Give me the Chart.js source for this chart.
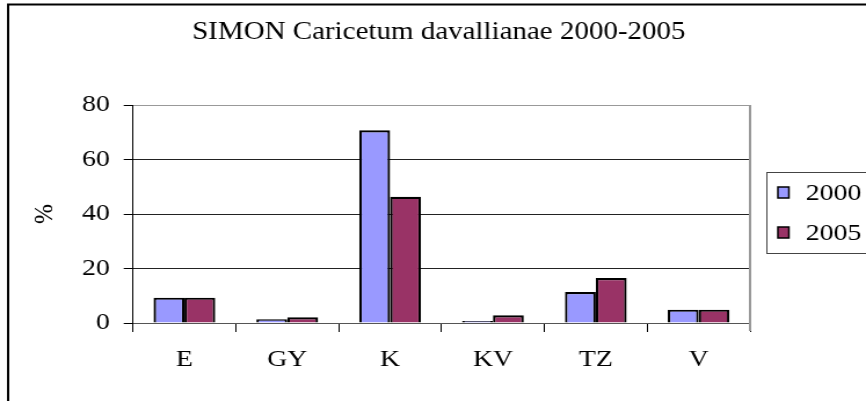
<!DOCTYPE html>
<html>
<head>
<meta charset="utf-8">
<script src="https://cdn.jsdelivr.net/npm/chart.js@4/dist/chart.umd.min.js"></script>
<style>
  html, body { margin: 0; padding: 0; background: #fff; overflow: hidden; }
  #wrap { position: absolute; left: 0; top: 0; width: 747px; height: 401px;
          transform: scaleX(1.1593); transform-origin: 0 0; }
  .probe { font-family: "Liberation Serif"; position: absolute; left: -9999px; }
</style>
</head>
<body>
<span class="probe">0</span>
<div id="wrap"><canvas id="c" width="747" height="401" style="width:747px;height:401px"></canvas></div>
<script>
const TITLE = 'SIMON Caricetum davallianae 2000-2005';
const Y_TITLE = '%';
const categories = ['E', 'GY', 'K', 'KV', 'TZ', 'V'];
const seriesNames = ['2000', '2005'];
const values2000 = [9.3, 1.4, 70.7, 0.7, 11.4, 4.9];
const values2005 = [9.3, 2.1, 46.3, 2.8, 16.5, 4.9];
const colors = ['#9999FF', '#993366'];
const yTicks = [0, 20, 40, 60, 80];

const FONT = "'Liberation Serif', 'DejaVu Serif', serif";

const decorPlugin = {
  id: 'decor',
  beforeDraw(chart) {
    const ctx = chart.ctx;
    ctx.save();
    ctx.fillStyle = '#fff';
    ctx.fillRect(0, 0, chart.width, chart.height);
    ctx.strokeStyle = '#000';
    ctx.lineWidth = 2;
    ctx.strokeRect(7, 4.5, 2000, 2000);
    ctx.fillStyle = '#000';
    ctx.font = '25px ' + FONT;
    ctx.textAlign = 'center';
    ctx.textBaseline = 'alphabetic';
    ctx.fillText(TITLE, 378.5, 39);
    ctx.restore();
  },
  afterDatasetsDraw(chart) {
    const ctx = chart.ctx;
    const a = chart.chartArea;
    ctx.save();
    ctx.strokeStyle = '#999';
    ctx.lineWidth = 2;
    ctx.beginPath();
    ctx.moveTo(a.right, a.top);
    ctx.lineTo(a.right, a.bottom + 8);
    ctx.stroke();
    ctx.restore();
  },
  afterDraw(chart) {
    const ctx = chart.ctx;
    ctx.save();
    ctx.strokeStyle = '#444';
    ctx.lineWidth = 1;
    ctx.strokeRect(661.5, 172.5, 200, 81);
    ctx.font = '24px ' + FONT;
    ctx.textAlign = 'left';
    ctx.textBaseline = 'middle';
    chart.data.datasets.forEach((ds, i) => {
      const y = 187 + i * 40;
      ctx.fillStyle = ds.backgroundColor;
      ctx.fillRect(671, y, 9.5, 11);
      ctx.strokeStyle = '#000';
      ctx.lineWidth = 1.5;
      ctx.strokeRect(671, y, 9.5, 11);
      ctx.fillStyle = '#000';
      ctx.fillText(ds.label, 695, y + 7);
    });
    ctx.restore();
  }
};

function build() {
  new Chart(document.getElementById('c'), {
    type: 'bar',
    data: {
      labels: categories,
      datasets: [
        { label: seriesNames[0], data: values2000, backgroundColor: colors[0] },
        { label: seriesNames[1], data: values2005, backgroundColor: colors[1] }
      ]
    },
    options: {
      responsive: false,
      animation: false,
      devicePixelRatio: 1,
      layout: { padding: { left: 0, top: 105, right: 100, bottom: 0 } },
      datasets: { bar: { borderColor: '#000', borderWidth: 2.2, categoryPercentage: 0.6, barPercentage: 1.0 } },
      plugins: { legend: { display: false }, title: { display: false }, tooltip: { enabled: false } },
      scales: {
        x: {
          afterFit(s) { s.height = 78; },
          grid: { offset: true, drawOnChartArea: false, drawTicks: true, tickLength: 9, color: '#000', tickColor: '#000' },
          border: { display: true, color: '#555', width: 1 },
          ticks: { color: '#000', font: { family: FONT, size: 24 }, padding: 13, maxRotation: 0 }
        },
        y: {
          min: 0, max: 80,
          afterFit(s) { s.width = 114.7; },
          afterBuildTicks(s) { s.ticks = yTicks.map(v => ({ value: v })); },
          grid: {
            color: c => (c.tick && c.tick.value === 80) ? '#999' : '#222',
            tickColor: '#000', tickLength: 8, lineWidth: 1
          },
          border: { display: true, color: '#000', width: 1 },
          ticks: { color: '#000', font: { family: FONT, size: 24 }, padding: 12 },
          title: { display: true, text: Y_TITLE, color: '#000', font: { family: FONT, size: 24 }, padding: { top: 24, bottom: 0 } }
        }
      }
    },
    plugins: [decorPlugin]
  });
}

const timeout = new Promise(r => setTimeout(r, 1500));
Promise.race([
  Promise.all([
    document.fonts.load("24px 'Liberation Serif'"),
    document.fonts.load("24px 'DejaVu Serif'")
  ]),
  timeout
]).then(build, build);
</script>
</body>
</html>
